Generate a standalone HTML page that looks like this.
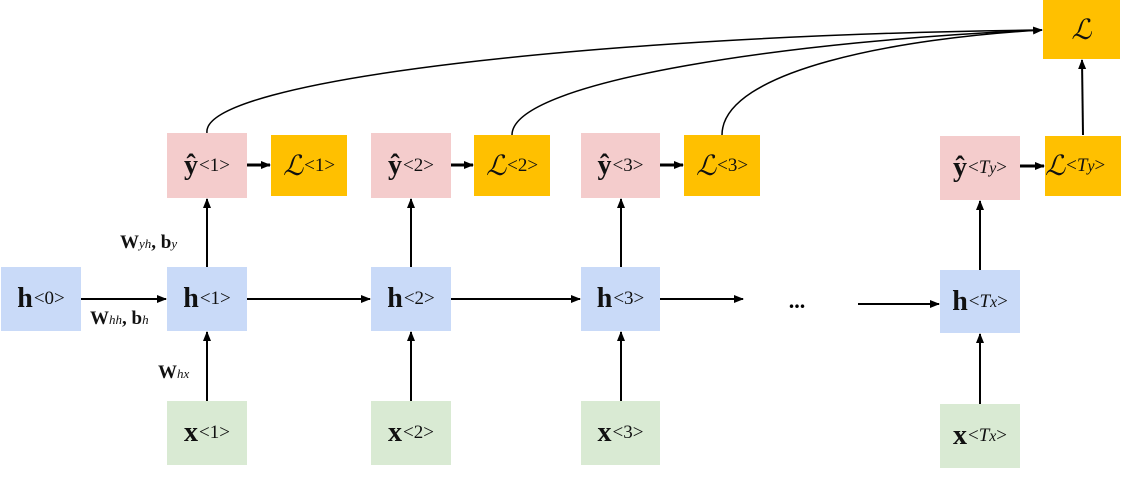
<!DOCTYPE html>
<html><head><style>
body{margin:0;background:#fff;}
.b{position:absolute;display:flex;align-items:center;justify-content:center;font-family:"Liberation Serif",serif;font-size:28px;color:#111;}
.b sup{font-size:19px;font-weight:normal;vertical-align:10px;margin-left:1px;}
.p{background:#f4cccc}.u{background:#c9daf8}.g{background:#d9ead3}.o{background:#ffc000}
.lab{position:absolute;font-family:"Liberation Serif",serif;font-size:19px;font-weight:bold;color:#111;}
.lab i{font-weight:normal;font-size:13px;}
</style></head><body>
<div style="position:relative;width:1125px;height:486px;overflow:hidden">
<svg width="1125" height="486" style="position:absolute;left:0;top:0">
<defs><marker id="a" markerWidth="10" markerHeight="10" refX="9" refY="5" orient="auto" markerUnits="userSpaceOnUse"><path d="M0,1 L10,5 L0,9 z" fill="#000"/></marker></defs>
<g stroke="#000" stroke-width="2" fill="none">
<line x1="81" y1="299" x2="166" y2="299" marker-end="url(#a)"/>
<line x1="247" y1="299" x2="370" y2="299" marker-end="url(#a)"/>
<line x1="451" y1="299" x2="580" y2="299" marker-end="url(#a)"/>
<line x1="660" y1="299" x2="743" y2="299" marker-end="url(#a)"/>
<line x1="858" y1="304" x2="939" y2="304" marker-end="url(#a)"/>
<line x1="207" y1="401" x2="207" y2="332" marker-end="url(#a)"/>
<line x1="411" y1="401" x2="411" y2="332" marker-end="url(#a)"/>
<line x1="621" y1="401" x2="621" y2="332" marker-end="url(#a)"/>
<line x1="980" y1="404" x2="980" y2="334" marker-end="url(#a)"/>
<line x1="207" y1="267" x2="207" y2="199" marker-end="url(#a)"/>
<line x1="411" y1="267" x2="411" y2="199" marker-end="url(#a)"/>
<line x1="621" y1="267" x2="621" y2="199" marker-end="url(#a)"/>
<line x1="980" y1="270" x2="980" y2="201" marker-end="url(#a)"/>
<line x1="247" y1="165" x2="270" y2="165" stroke-width="3" marker-end="url(#a)"/>
<line x1="451" y1="165" x2="473" y2="165" stroke-width="3" marker-end="url(#a)"/>
<line x1="660" y1="165" x2="683" y2="165" stroke-width="3" marker-end="url(#a)"/>
<line x1="1020" y1="166" x2="1044" y2="166" stroke-width="3" marker-end="url(#a)"/>
<line x1="1083" y1="135" x2="1082" y2="60" marker-end="url(#a)"/>
<path d="M207,133 C200,80 600,35 1042,30" stroke-width="1.5"/>
<path d="M512,135 C512,80 800,40 1042,30" stroke-width="1.5"/>
<path d="M722,135 C722,70 900,38 1042,30" stroke-width="1.5" marker-end="url(#a)"/>
</g>
<text x="797" y="308" font-family="Liberation Serif" font-size="22" font-weight="bold" text-anchor="middle">...</text>
</svg>
<div class="b u" style="left:1px;top:267px;width:80px;height:64px"><b>h</b><sup>&lt;0&gt;</sup></div>
<div class="b u" style="left:167px;top:267px;width:80px;height:64px"><b>h</b><sup>&lt;1&gt;</sup></div>
<div class="b u" style="left:371px;top:267px;width:80px;height:64px"><b>h</b><sup>&lt;2&gt;</sup></div>
<div class="b u" style="left:581px;top:267px;width:79px;height:64px"><b>h</b><sup>&lt;3&gt;</sup></div>
<div class="b u" style="left:940px;top:270px;width:80px;height:63px"><b>h</b><sup>&lt;<i>T<small>x</small></i>&gt;</sup></div>
<div class="b p" style="left:167px;top:133px;width:80px;height:65px"><b>ŷ</b><sup>&lt;1&gt;</sup></div>
<div class="b p" style="left:371px;top:133px;width:80px;height:65px"><b>ŷ</b><sup>&lt;2&gt;</sup></div>
<div class="b p" style="left:581px;top:133px;width:79px;height:65px"><b>ŷ</b><sup>&lt;3&gt;</sup></div>
<div class="b p" style="left:940px;top:136px;width:80px;height:64px"><b>ŷ</b><sup>&lt;<i>T<small>y</small></i>&gt;</sup></div>
<div class="b o" style="left:271px;top:135px;width:76px;height:61px"><i>ℒ</i><sup>&lt;1&gt;</sup></div>
<div class="b o" style="left:474px;top:135px;width:76px;height:61px"><i>ℒ</i><sup>&lt;2&gt;</sup></div>
<div class="b o" style="left:684px;top:135px;width:76px;height:61px"><i>ℒ</i><sup>&lt;3&gt;</sup></div>
<div class="b o" style="left:1045px;top:136px;width:76px;height:60px;justify-content:flex-start"><i>ℒ</i><sup>&lt;<i>T<small>y</small></i>&gt;</sup></div>
<div class="b o" style="left:1043px;top:0px;width:77px;height:59px"><i>ℒ</i></div>
<div class="b g" style="left:167px;top:401px;width:80px;height:64px"><b>x</b><sup>&lt;1&gt;</sup></div>
<div class="b g" style="left:371px;top:401px;width:80px;height:64px"><b>x</b><sup>&lt;2&gt;</sup></div>
<div class="b g" style="left:581px;top:401px;width:79px;height:64px"><b>x</b><sup>&lt;3&gt;</sup></div>
<div class="b g" style="left:940px;top:404px;width:80px;height:64px"><b>x</b><sup>&lt;<i>T<small>x</small></i>&gt;</sup></div>
<div class="lab" style="left:120px;top:232px">W<i>yh</i>, b<i>y</i></div>
<div class="lab" style="left:90px;top:308px">W<i>hh</i>, b<i>h</i></div>
<div class="lab" style="left:158px;top:362px">W<i>hx</i></div>
</div>
</body></html>
